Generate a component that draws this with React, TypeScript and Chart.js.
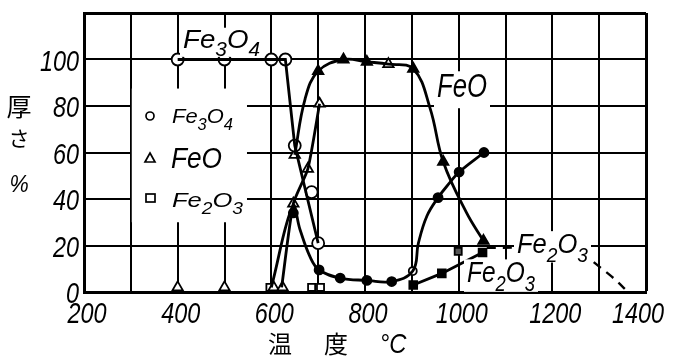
import React, { useEffect, useRef } from 'react';
import { Chart, registerables } from 'chart.js';

Chart.register(...registerables);

const FONT = '"Liberation Sans", Arimo, "DejaVu Sans", sans-serif';
const JP = '"Noto Sans CJK JP", "Noto Sans CJK SC", sans-serif';

// axis ticks
const xTickLabels = [200, 400, 600, 800, 1000, 1200, 1400];
const yTickLabels = [0, 20, 40, 60, 80, 100];

// Fe3O4, open circles (main curve)
const fe3o4T = [400, 500, 600, 630, 650, 700];
const fe3o4V = [100, 100, 100, 100, 63, 21];
const fe3o4StrayT = [686];
const fe3o4StrayV = [43];

// FeO, open triangles
const feoOpenCurveT = [622, 647, 678, 703];
const feoOpenCurveV = [2, 38, 53, 81];
const feoOpenT = [400, 500, 605, 624, 647, 678, 703, 650, 850];
const feoOpenV = [2, 2, 2, 2, 38, 53, 81, 59, 98];

// FeO, filled triangles
const feoCurveT = [650, 672, 700, 754, 804, 850, 903, 939, 967, 1017, 1053];
const feoCurveV = [59, 83, 95, 100, 99, 98, 96, 79, 56, 34, 22];
const feoFilledT = [700, 754, 804, 903, 967, 1053];
const feoFilledV = [95, 100, 99, 96, 56, 22];

// filled circles
const dotCurveT = [600, 646, 661, 683, 702, 747, 804, 857, 902, 914, 932, 956, 981, 1001, 1054];
const dotCurveV = [2, 37, 27, 15, 9.5, 6, 5, 4.5, 9, 21, 32.6, 40.6, 47, 51.6, 60];
const dotT = [647, 702, 747, 804, 857, 956, 1001, 1054];
const dotV = [34, 9.5, 6, 5, 4.5, 40.6, 51.6, 60];
const dotOpenT = [902];
const dotOpenV = [9];

// Fe2O3 squares
const fe2o3OpenT = [597, 686, 705];
const fe2o3OpenV = [2, 2, 2];
const fe2o3FilledT = [903, 964, 1051];
const fe2o3FilledV = [3, 8, 17];
const fe2o3HalfT = [999];
const fe2o3HalfV = [17.5];
const fe2o3DashT = [1060, 1180, 1259, 1291, 1327, 1362];
const fe2o3DashV = [19, 19, 18, 12.4, 6.6, 0];

type Part = [string, boolean];
const F3O4: Part[] = [['Fe', false], ['3', true], ['O', false], ['4', true]];
const FEO: Part[] = [['FeO', false]];
const F2O3: Part[] = [['Fe', false], ['2', true], ['O', false], ['3', true]];

const pts = (t: number[], v: number[]) => t.map((x, i) => ({ x, y: v[i] }));

function formulaWidth(ctx: CanvasRenderingContext2D, parts: Part[], size: number) {
  let w = 0;
  for (const [t, sub] of parts) {
    ctx.font = `italic ${sub ? size * 0.75 : size}px ${FONT}`;
    w += ctx.measureText(t).width;
  }
  return w;
}

// draw formula with left edge x, baseline y, stretched to target width
function drawFormula(ctx: CanvasRenderingContext2D, parts: Part[], x: number, y: number, size: number, width: number, bg = false) {
  const w = formulaWidth(ctx, parts, size);
  const sx = width / w;
  if (bg) {
    ctx.fillStyle = '#fff';
    ctx.fillRect(x - 3, y - size * 0.78, width + 6, size * 1.12);
  }
  ctx.save();
  ctx.translate(x, y);
  ctx.scale(sx, 1);
  ctx.fillStyle = '#000';
  ctx.textAlign = 'left';
  ctx.textBaseline = 'alphabetic';
  let cx = 0;
  for (const [t, sub] of parts) {
    const fs = sub ? size * 0.75 : size;
    ctx.font = `italic ${fs}px ${FONT}`;
    ctx.fillText(t, cx, sub ? size * 0.32 : 0);
    cx += ctx.measureText(t).width;
  }
  ctx.restore();
}

function drawNarrow(ctx: CanvasRenderingContext2D, text: string, x: number, y: number, size: number, align: CanvasTextAlign, sx: number, maxRight = Infinity) {
  ctx.save();
  ctx.font = `italic ${size}px ${FONT}`;
  if (align === 'center') {
    const half = (ctx.measureText(text).width * sx) / 2;
    if (x + half > maxRight) x = maxRight - half;
  }
  ctx.translate(x, y);
  ctx.scale(sx, 1);
  ctx.textAlign = align;
  ctx.textBaseline = 'alphabetic';
  ctx.fillStyle = '#000';
  ctx.fillText(text, 0, 0);
  ctx.restore();
}

const decor = {
  id: 'decor',
  beforeDatasetsDraw(chart: any) {
    const { ctx } = chart;
    const xs = chart.scales.x, ys = chart.scales.y;
    ctx.save();
    ctx.fillStyle = '#fff';
    const x0 = xs.getPixelForValue(302), x1 = xs.getPixelForValue(548);
    const y0 = ys.getPixelForValue(87.5), y1 = ys.getPixelForValue(30);
    ctx.fillRect(x0, y0, x1 - x0, y1 - y0);
    ctx.restore();
  },
  afterDatasetsDraw(chart: any) {
    const { ctx } = chart;
    ctx.save();
    drawFormula(ctx, F3O4, 183, 48, 26, 77, true);
    drawFormula(ctx, FEO, 437, 97, 33, 50, true);
    drawFormula(ctx, F2O3, 517, 253, 28, 71, true);
    drawFormula(ctx, F2O3, 467, 282, 29, 68, true);

    // legend
    ctx.lineWidth = 1.7;
    ctx.strokeStyle = '#000';
    ctx.fillStyle = '#fff';
    ctx.beginPath();
    ctx.arc(150, 116, 4, 0, Math.PI * 2);
    ctx.fill();
    ctx.stroke();
    ctx.beginPath();
    ctx.moveTo(150, 153);
    ctx.lineTo(155, 162);
    ctx.lineTo(145, 162);
    ctx.closePath();
    ctx.stroke();
    ctx.strokeRect(146, 194, 9, 8);
    drawFormula(ctx, F3O4, 172, 123, 21, 61);
    drawFormula(ctx, FEO, 171, 168, 30, 51);
    drawFormula(ctx, F2O3, 172, 207, 21, 71);
    ctx.restore();
  },
  afterDraw(chart: any) {
    const { ctx } = chart;
    const xs = chart.scales.x, ys = chart.scales.y;
    ctx.save();
    // tick labels
    for (const v of xTickLabels) {
      drawNarrow(ctx, String(v), xs.getPixelForValue(v) + 3, 323, 30, 'center', 0.78, 664);
    }
    for (const v of yTickLabels) {
      drawNarrow(ctx, String(v), 79, ys.getPixelForValue(v) + 11, 30, 'right', 0.78);
    }
    ctx.fillStyle = '#000';
    ctx.textAlign = 'center';
    ctx.textBaseline = 'middle';
    ctx.font = `25px ${JP}`;
    ctx.fillText('厚', 19, 106);
    ctx.font = `21px ${JP}`;
    ctx.fillText('さ', 19, 138);
    drawNarrow(ctx, '%', 19, 192, 24, 'center', 0.9);
    ctx.font = `24px ${JP}`;
    ctx.textBaseline = 'middle';
    ctx.textAlign = 'center';
    ctx.fillText('温', 280, 344);
    ctx.fillText('度', 336, 344);
    drawNarrow(ctx, '°C', 393, 353, 28, 'center', 0.85);
    ctx.restore();
  },
};

const lineDs = (t: number[], v: number[], extra: any = {}) => ({
  type: 'line',
  data: pts(t, v),
  borderColor: '#000',
  borderWidth: 2.8,
  pointRadius: 0,
  fill: false,
  clip: false,
  ...extra,
});

const markDs = (t: number[], v: number[], style: string, radius: number, fillCol: string, extra: any = {}) => ({
  type: 'scatter',
  data: pts(t, v),
  showLine: false,
  pointStyle: style,
  pointRadius: radius,
  pointBackgroundColor: fillCol,
  pointBorderColor: '#000',
  pointBorderWidth: 1.8,
  clip: false,
  ...extra,
});

export default function App() {
  const ref = useRef<HTMLCanvasElement>(null);
  useEffect(() => {
    if (!ref.current) return;
    const chart = new Chart(ref.current, {
      type: 'line',
      data: {
        datasets: [
          lineDs(fe3o4T, fe3o4V, { tension: 0 }),
          lineDs(feoOpenCurveT, feoOpenCurveV, { tension: 0.2 }),
          lineDs(feoCurveT, feoCurveV, { tension: 0.4 }),
          lineDs(dotCurveT, dotCurveV, { tension: 0.4 }),
          lineDs(fe2o3FilledT, fe2o3FilledV, { tension: 0 }),
          lineDs(fe2o3DashT, fe2o3DashV, { tension: 0.4, borderDash: [9, 7], borderWidth: 2.4 }),
          markDs(fe3o4T, fe3o4V, 'circle', 6, '#fff'),
          markDs(fe3o4StrayT, fe3o4StrayV, 'circle', 6, '#fff'),
          markDs(feoOpenT, feoOpenV, 'triangle', 6, '#fff'),
          markDs(feoFilledT, feoFilledV, 'triangle', 6, '#000'),
          markDs(dotT, dotV, 'circle', 4.5, '#000'),
          markDs(dotOpenT, dotOpenV, 'circle', 4, '#fff'),
          markDs(fe2o3OpenT, fe2o3OpenV, 'rect', 5, '#fff'),
          markDs(fe2o3FilledT, fe2o3FilledV, 'rect', 5.5, '#000'),
          markDs(fe2o3HalfT, fe2o3HalfV, 'rect', 5, '#555'),
        ] as any,
      },
      options: {
        responsive: false,
        animation: false,
        events: [],
        layout: { padding: { top: 13, right: 28, left: 0, bottom: 0 } },
        plugins: { legend: { display: false }, tooltip: { enabled: false } },
        scales: {
          x: {
            type: 'linear',
            min: 200,
            max: 1400,
            afterFit: (s: any) => { s.height = 65; },
            border: { color: '#000', width: 3 },
            grid: {
              color: '#000',
              drawTicks: false,
              lineWidth: (c: any) => (c.tick && c.tick.value === 1400 ? 3 : 2),
            },
            ticks: { stepSize: 100, display: false, autoSkip: false },
          },
          y: {
            type: 'linear',
            min: 0,
            max: 120,
            afterFit: (s: any) => { s.width = 84; },
            border: { color: '#000', width: 3 },
            grid: {
              color: '#000',
              drawTicks: false,
              lineWidth: (c: any) => (c.tick && c.tick.value === 120 ? 3 : 2),
            },
            ticks: { stepSize: 20, display: false, autoSkip: false },
          },
        },
      },
      plugins: [decor],
    });
    return () => chart.destroy();
  }, []);
  return (
    <div style={{ position: 'fixed', left: 0, top: 0, width: 674, height: 357, background: '#fff' }}>
      <canvas ref={ref} width={674} height={357} />
    </div>
  );
}
